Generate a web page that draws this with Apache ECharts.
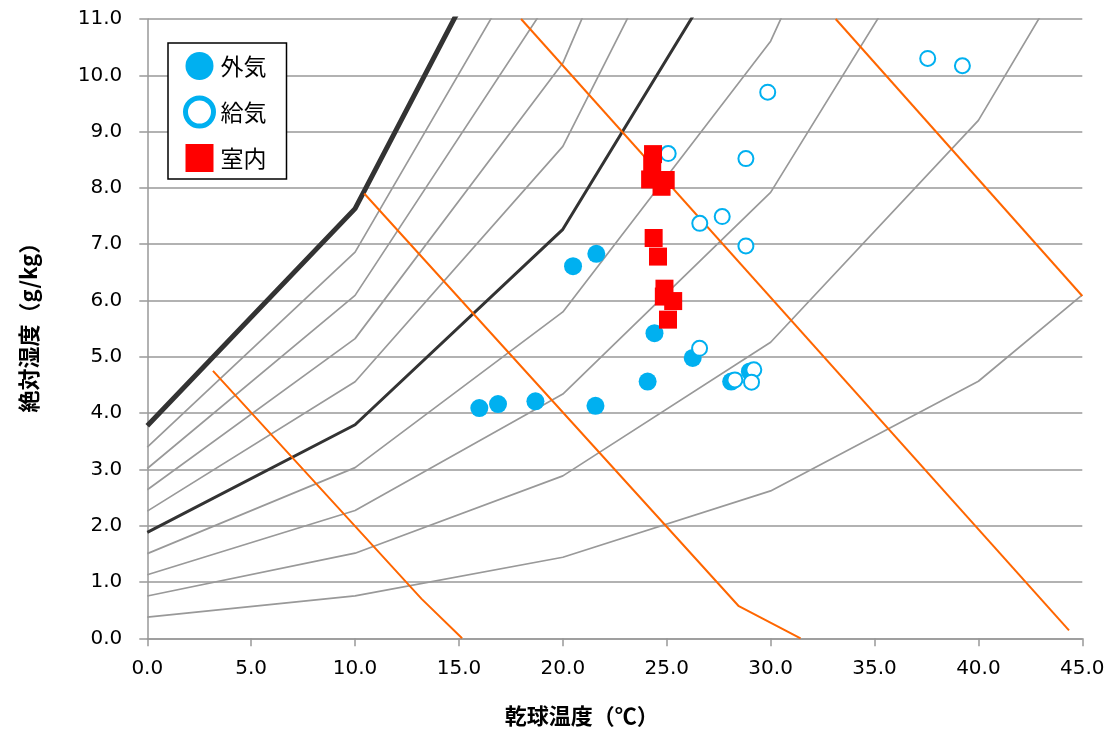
<!DOCTYPE html>
<html>
<head>
<meta charset="utf-8">
<script src="https://cdn.jsdelivr.net/npm/echarts@6/dist/echarts.min.js"></script>
<style>
html,body{margin:0;padding:0;background:#fff;}
#chart{width:1112px;height:737px;}
</style>
</head>
<body>
<div id="chart"></div>
<script>
// Relative-humidity curves: dry-bulb temperatures and absolute humidity (g/kg)
const rhTemps = [0, 10, 20, 30, 40, 45];
const rh10  = [0.375, 0.755, 1.439, 2.618, 4.566, 6.10];
const rh20  = [0.751, 1.512, 2.885, 5.258, 9.20, 12.3];
const rh30  = [1.128, 2.270, 4.338, 7.920, 13.90];
const rh40  = [1.504, 3.031, 5.797, 10.606, 18.68];
const rh50  = [1.882, 3.793, 7.264, 13.313];
const rh60  = [2.259, 4.557, 8.737, 16.045];
const rh70  = [2.638, 5.323, 10.217, 18.80];
const rh80  = [3.016, 6.091, 11.704];
const rh90  = [3.395, 6.860, 13.198];
const rh100 = [3.775, 7.632, 14.70];

// Enthalpy (orange) lines: [temperature, humidity] vertices
const enth1 = [[3.16, 4.75], [13.2, 0.70], [15.15, 0]];
const enth2 = [[10.44, 7.90], [28.47, 0.57], [31.44, 0]];
const enth3 = [[17.99, 11.0], [44.36, 0.14]];
const enth4 = [[33.13, 11.0], [45.0, 6.08]];

// Measured points
const outX  = [15.98, 16.88, 18.68, 21.57, 24.08, 24.41, 26.25, 28.10, 29.00, 20.49, 21.61];
const outY  = [4.09, 4.16, 4.21, 4.13, 4.56, 5.42, 4.98, 4.56, 4.74, 6.61, 6.83];
const supX  = [29.86, 25.07, 28.81, 26.59, 27.67, 28.81, 37.56, 39.23, 26.58, 28.28, 29.19, 29.08];
const supY  = [9.70, 8.61, 8.52, 7.37, 7.49, 6.97, 10.30, 10.17, 5.15, 4.59, 4.77, 4.55];
const roomX = [24.34, 24.30, 24.20, 24.95, 24.75, 24.37, 24.58, 24.89, 24.86, 25.31, 25.06];
const roomY = [8.60, 8.42, 8.15, 8.14, 8.02, 7.11, 6.78, 6.21, 6.07, 5.99, 5.66];

const xTicks = { min: 0, max: 45, interval: 5 };
const yTicks = { min: 0, max: 11, interval: 1 };

const zip = (xs, ys) => ys.map((y, i) => [xs[i], y]);

function lineSeries(name, data, color, width, z) {
  return {
    name: name, type: 'line', data: data, showSymbol: false, symbol: 'none',
    silent: true, clip: true, z: z,
    lineStyle: { color: color, width: width }
  };
}

const gray = '#999999';
const series = [];
[rh10, rh20, rh30, rh40, rh60, rh70, rh80, rh90].forEach((arr, i) => {
  series.push(lineSeries('rh' + i, zip(rhTemps, arr), gray, 1.7, 2));
});
series.push(lineSeries('rh50', zip(rhTemps, rh50), '#333333', 3, 3));
series.push(lineSeries('rh100', zip(rhTemps, rh100), '#333333', 5, 3));
[enth1, enth2, enth3, enth4].forEach((arr, i) => {
  series.push(lineSeries('enth' + i, arr, '#FF6600', 2, 4));
});

series.push({
  name: '外気', type: 'scatter', data: zip(outX, outY), symbol: 'circle', symbolSize: 18, z: 5,
  itemStyle: { color: '#00B0F0', opacity: 1 }
});
series.push({
  name: '給気', type: 'scatter', data: zip(supX, supY), symbol: 'circle', symbolSize: 15, z: 6,
  itemStyle: { color: '#FFFFFF', borderColor: '#00B0F0', borderWidth: 2, opacity: 1 }
});
series.push({
  name: '室内', type: 'scatter', data: zip(roomX, roomY), symbol: 'rect', symbolSize: 18, z: 7,
  itemStyle: { color: '#FF0000', opacity: 1 }
});

const labelFont = 'DejaVu Sans';
const cjkFont = '"Noto Sans CJK JP", "Noto Sans CJK SC", sans-serif';

const chart = echarts.init(document.getElementById('chart'), null, { renderer: 'canvas' });
chart.setOption({
  animation: false,
  backgroundColor: '#ffffff',
  grid: { left: 147.3, right: 29.7, top: 19, bottom: 98.7, containLabel: false },
  legend: {
    left: 168, top: 43, orient: 'vertical',
    itemWidth: 28, itemHeight: 28, itemGap: 15.5,
    padding: [9, 20, 7, 15],
    borderColor: '#000000', borderWidth: 1.5, backgroundColor: '#ffffff',
    textStyle: { fontFamily: cjkFont, fontSize: 23, color: '#000000', padding: [0, 0, 0, 2] },
    data: [
      { name: '外気' },
      { name: '給気', itemStyle: { borderWidth: 5, borderColor: '#00B0F0', color: '#ffffff' } },
      { name: '室内' }
    ]
  },
  xAxis: {
    type: 'value', min: xTicks.min, max: xTicks.max, interval: xTicks.interval,
    name: '乾球温度（℃）', nameLocation: 'middle', nameGap: 66,
    nameTextStyle: { fontFamily: cjkFont, fontSize: 22, fontWeight: 'bold', color: '#000', padding: [0, 66, 0, 0] },
    axisLine: { show: true, lineStyle: { color: '#999999', width: 1.5 } },
    axisTick: { show: true, length: 8, lineStyle: { color: '#999999', width: 1.5 } },
    axisLabel: { fontFamily: labelFont, fontSize: 20, color: '#000', margin: 20,
      formatter: v => v.toFixed(1) },
    splitLine: { show: false }
  },
  yAxis: {
    type: 'value', min: yTicks.min, max: yTicks.max, interval: yTicks.interval,
    name: '絶対湿度（g/kg）', nameLocation: 'middle', nameGap: 108, nameRotate: 90,
    nameTextStyle: { fontFamily: cjkFont, fontSize: 22, fontWeight: 'bold', color: '#000', padding: [0, 0, 0, 13] },
    axisLine: { show: true, lineStyle: { color: '#999999', width: 1.5 } },
    axisTick: { show: true, length: 8, lineStyle: { color: '#999999', width: 1.5 } },
    axisLabel: { fontFamily: labelFont, fontSize: 20, color: '#000', margin: 25,
      formatter: v => v.toFixed(1) },
    splitLine: { show: true, lineStyle: { color: '#999999', width: 1.5 } }
  },
  series: series
});
</script>
</body>
</html>
